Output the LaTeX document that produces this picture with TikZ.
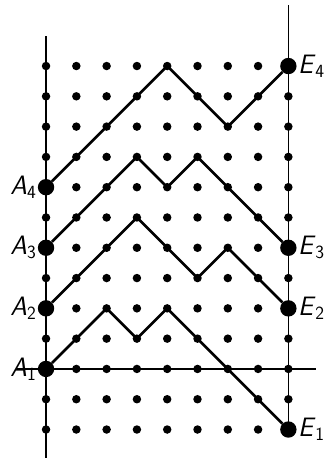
\documentclass[tikz,border=0pt]{standalone}
\usetikzlibrary{positioning}

\begin{document}
\begin{tikzpicture}[
  x=1cm, y=1cm,
  endpt/.style={circle, fill=black, inner sep=0pt, minimum size=0.54cm},
  lbl/.style={font=\fontsize{25}{30}\selectfont\sffamily, inner sep=1pt},
  walk/.style={line width=2.5pt},
  axis/.style={line width=1.2pt},
]
\useasboundingbox (-1.52,-2.94) rectangle (9.17,12.18);

% lattice points
\foreach \i in {0,...,8}
  \foreach \j in {-2,...,10}
    \fill (\i,\j) circle (0.14);

% axes
\draw[axis] (0,-2.94) -- (0,11);
\draw[axis] (8,-2) -- (8,12);
\draw[axis] (-0.95,0) -- (8.9,0);

% start and end points
\foreach \k/\a/\e in {1/0/-2, 2/2/2, 3/4/4, 4/6/10} {
  \node[endpt] (A\k) at (0,\a) {};
  \node[endpt] (E\k) at (8,\e) {};
  \node[lbl, left=0pt of A\k] (lA\k) {\textit{A}\textsubscript{\k}};
  \node[lbl, right=0pt of E\k] (lE\k) {\textit{E}\textsubscript{\k}};
}

% paths
\draw[walk] (A1) -- (2,2) -- (3,1) -- (4,2) -- (E1);
\draw[walk] (A2) -- (3,5) -- (5,3) -- (6,4) -- (E2);
\draw[walk] (A3) -- (3,7) -- (4,6) -- (5,7) -- (E3);
\draw[walk] (A4) -- (4,10) -- (6,8) -- (E4);
\end{tikzpicture}
\end{document}
